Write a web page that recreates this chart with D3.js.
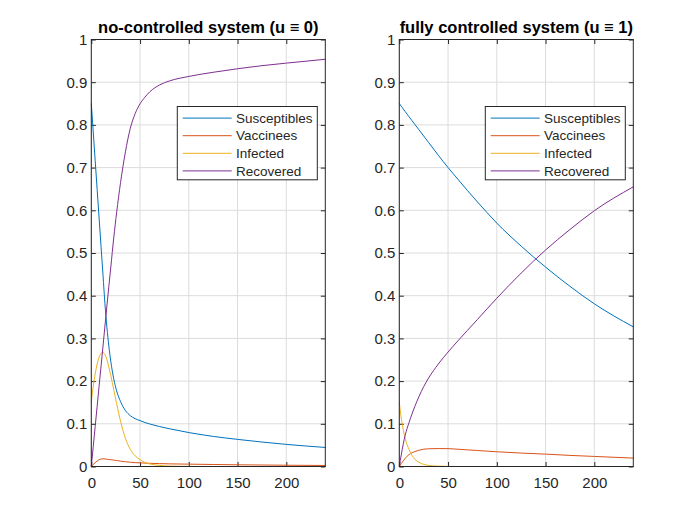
<!DOCTYPE html>
<html>
<head>
<meta charset="utf-8">
<script src="https://cdn.jsdelivr.net/npm/d3@7"></script>
<style>
body { margin: 0; background: #fff; }
text { font-family: "Liberation Sans", Arial, sans-serif; }
</style>
</head>
<body>
<div id="chart"></div>
<script>
// Figure size
var svgWidth = 700;
var svgHeight = 525;

// ---- data: no-controlled system (u = 0) ----
var timeNoCtrl = [0, 2, 4, 6, 8, 10, 12, 14, 16, 18, 20, 23, 26, 30, 35, 40, 45, 50, 55, 60, 70, 80, 100, 125, 150, 175, 200, 240];
var suscNoCtrl = [0.85, 0.783, 0.716, 0.649, 0.582, 0.515, 0.448, 0.381, 0.326, 0.282, 0.246, 0.2055, 0.177, 0.152, 0.131, 0.119, 0.112, 0.1075, 0.103, 0.0995, 0.0935, 0.0885, 0.0795, 0.0705, 0.0635, 0.0573, 0.0518, 0.0446];
var vaccNoCtrl = [0, 0.005, 0.009, 0.013, 0.016, 0.0175, 0.018, 0.0178, 0.017, 0.0165, 0.016, 0.015, 0.014, 0.0125, 0.011, 0.01, 0.009, 0.0085, 0.008, 0.0075, 0.0068, 0.0062, 0.0055, 0.0047, 0.004, 0.0035, 0.003, 0.0024];
var infNoCtrl  = [0.151, 0.188, 0.217, 0.24, 0.256, 0.265, 0.267, 0.262, 0.25, 0.233, 0.213, 0.18, 0.147, 0.106, 0.066, 0.04, 0.025, 0.016, 0.0095, 0.006, 0.0025, 0.001, 0.0002, 0, 0, 0, 0, 0];
var recNoCtrl  = [0, 0.047, 0.094, 0.141, 0.188, 0.235, 0.282, 0.329, 0.376, 0.422, 0.467, 0.535, 0.595, 0.665, 0.737, 0.792, 0.8265, 0.8495, 0.865, 0.8775, 0.8935, 0.9028, 0.9135, 0.9232, 0.9315, 0.9387, 0.9447, 0.9537];

// ---- data: fully controlled system (u = 1) ----
var timeFull = [0, 2, 4, 6, 8, 10, 13, 16, 20, 25, 30, 40, 50, 60, 70, 80, 100, 125, 150, 175, 200, 240];
var suscFull = [0.85, 0.8438, 0.8376, 0.8314, 0.8252, 0.819, 0.81, 0.801, 0.789, 0.774, 0.759, 0.729, 0.70, 0.673, 0.646, 0.62, 0.57, 0.516, 0.467, 0.422, 0.381, 0.327];
var vaccFull = [0, 0.007, 0.013, 0.019, 0.024, 0.028, 0.032, 0.035, 0.038, 0.0405, 0.0415, 0.042, 0.0418, 0.0405, 0.039, 0.0375, 0.0345, 0.0315, 0.029, 0.026, 0.0236, 0.0197];
var infFull  = [0.151, 0.113, 0.087, 0.066, 0.051, 0.04, 0.026, 0.017, 0.01, 0.005, 0.0025, 0.0008, 0.0002, 0, 0, 0, 0, 0, 0, 0, 0, 0];
var recFull  = [0, 0.027, 0.052, 0.073, 0.089, 0.103, 0.123, 0.141, 0.163, 0.187, 0.207, 0.24, 0.268, 0.294, 0.319, 0.344, 0.394, 0.453, 0.507, 0.555, 0.599, 0.655];

// labels, ticks, colours
var seriesNames = ["Susceptibles", "Vaccinees", "Infected", "Recovered"];
var seriesColors = ["#0072BD", "#D95319", "#EDB120", "#7E2F8E"];
var panelTitles = ["no-controlled system (u \u2261 0)", "fully controlled system (u \u2261 1)"];
var xTicks = [0, 50, 100, 150, 200];
var yTicks = [0, 0.1, 0.2, 0.3, 0.4, 0.5, 0.6, 0.7, 0.8, 0.9, 1];
var xDomain = [0, 240];
var yDomain = [0, 1];

// axes placement
var panelLeft = [91.3, 399.3];
var panelWidth = 234;
var plotTop = 39.5;
var plotBottom = 466.5;
var tickLen = 4.5;
var axisColor = "#262626";

var svg = d3.select("#chart")
  .append("svg")
  .attr("width", svgWidth)
  .attr("height", svgHeight);

svg.append("rect")
  .attr("width", svgWidth)
  .attr("height", svgHeight)
  .attr("fill", "#fff");

var panels = [
  { time: timeNoCtrl, series: [suscNoCtrl, vaccNoCtrl, infNoCtrl, recNoCtrl] },
  { time: timeFull, series: [suscFull, vaccFull, infFull, recFull] }
];

panels.forEach(function (p, i) {
  var left = panelLeft[i];
  var x = d3.scaleLinear().domain(xDomain).range([left, left + panelWidth]);
  var y = d3.scaleLinear().domain(yDomain).range([plotBottom, plotTop]);

  var g = svg.append("g");

  // grid
  g.append("g").selectAll("line")
    .data(xTicks)
    .enter().append("line")
    .attr("x1", d => x(d)).attr("x2", d => x(d))
    .attr("y1", plotTop).attr("y2", plotBottom)
    .attr("stroke", "#dcdcdc").attr("stroke-width", 1);
  g.append("g").selectAll("line")
    .data(yTicks)
    .enter().append("line")
    .attr("x1", left).attr("x2", left + panelWidth)
    .attr("y1", d => y(d)).attr("y2", d => y(d))
    .attr("stroke", "#dcdcdc").attr("stroke-width", 1);

  // axes with inward ticks on all four sides
  var fmt = d => String(+d.toFixed(1));
  g.append("g")
    .attr("transform", `translate(0, ${plotBottom})`)
    .call(d3.axisBottom(x).tickValues(xTicks).tickFormat(fmt).tickSizeInner(-tickLen).tickSizeOuter(0).tickPadding(11));
  g.append("g")
    .attr("transform", `translate(${left}, 0)`)
    .call(d3.axisLeft(y).tickValues(yTicks).tickFormat(fmt).tickSizeInner(-tickLen).tickSizeOuter(0).tickPadding(4));
  g.append("g")
    .attr("transform", `translate(0, ${plotTop})`)
    .call(d3.axisTop(x).tickValues(xTicks).tickFormat("").tickSizeInner(-tickLen).tickSizeOuter(0));
  g.append("g")
    .attr("transform", `translate(${left + panelWidth}, 0)`)
    .call(d3.axisRight(y).tickValues(yTicks).tickFormat("").tickSizeInner(-tickLen).tickSizeOuter(0));

  g.selectAll(".domain").remove();
  g.selectAll(".tick line").attr("stroke", axisColor);
  g.selectAll(".tick text")
    .attr("fill", axisColor)
    .style("font-size", "15px");

  // data lines
  var line = d3.line()
    .x((d, k) => x(p.time[k]))
    .y(d => y(d))
    .curve(d3.curveMonotoneX);
  p.series.forEach(function (vals, s) {
    g.append("path")
      .datum(vals)
      .attr("d", line)
      .attr("fill", "none")
      .attr("stroke", seriesColors[s])
      .attr("stroke-width", 1);
  });

  // box
  g.append("rect")
    .attr("x", left).attr("y", plotTop)
    .attr("width", panelWidth).attr("height", plotBottom - plotTop)
    .attr("fill", "none")
    .attr("stroke", axisColor)
    .attr("stroke-width", 1);

  // title
  g.append("text")
    .attr("x", left + panelWidth / 2)
    .attr("y", 33)
    .attr("text-anchor", "middle")
    .style("font-size", "16.5px")
    .style("font-weight", "bold")
    .attr("fill", "#000")
    .text(panelTitles[i]);

  // legend
  var lx = left + 86, ly = plotTop + 67;
  var legend = g.append("g").attr("transform", `translate(${lx}, ${ly})`);
  legend.append("rect")
    .attr("width", 140).attr("height", 73.3)
    .attr("fill", "#fff")
    .attr("stroke", axisColor)
    .attr("stroke-width", 1);
  seriesNames.forEach(function (name, s) {
    var ry = 11.6 + s * 17.6;
    legend.append("line")
      .attr("x1", 5.4).attr("x2", 54.4)
      .attr("y1", ry).attr("y2", ry)
      .attr("stroke", seriesColors[s])
      .attr("stroke-width", 1);
    legend.append("text")
      .attr("x", 58.7)
      .attr("y", ry)
      .attr("dy", "0.35em")
      .attr("fill", axisColor)
      .style("font-size", "13.5px")
      .text(name);
  });
});
</script>
</body>
</html>
